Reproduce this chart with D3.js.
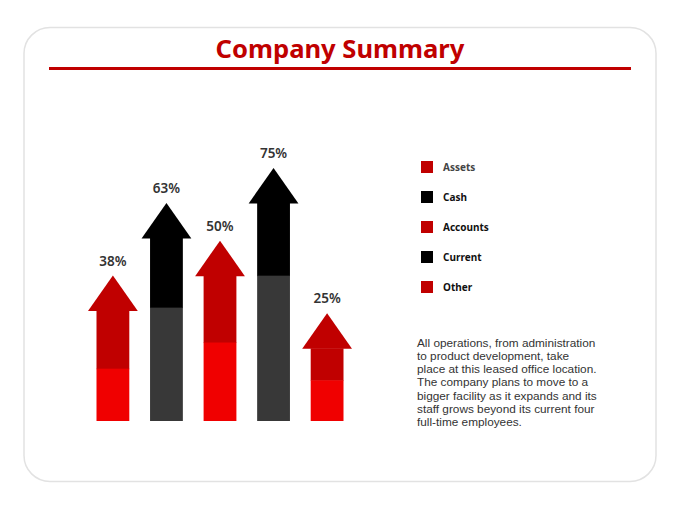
<!DOCTYPE html>
<html>
<head>
<meta charset="utf-8">
<script src="https://cdn.jsdelivr.net/npm/d3@7"></script>
<style>
  html, body { margin: 0; padding: 0; background: #fff; }
  svg { display: block; font-family: "Noto Sans", "Open Sans", sans-serif; }
</style>
</head>
<body>
<div id="chart"></div>
<script>
// data
const categories = ["Assets", "Cash", "Accounts", "Current", "Other"];
const values = [38, 63, 50, 75, 25];      // arrow labels (%)
const lowerValues = [18, 39, 27, 50, 14]; // lighter lower part of each arrow
const kinds = ["red", "black", "red", "black", "red"];
const note = [
  "All operations, from administration",
  "to product development, take",
  "place at this leased office location.",
  "The company plans to move to a",
  "bigger facility as it expands and its",
  "staff grows beyond its current four",
  "full-time employees."
];

const width = 680, height = 510;
const palette = {
  red: { top: "#c00000", bottom: "#f00000", legend: "#c00000" },
  black: { top: "#000000", bottom: "#383838", legend: "#000000" }
};

const svg = d3.select("#chart").append("svg")
  .attr("width", width)
  .attr("height", height);

// card
svg.append("rect")
  .attr("x", 24).attr("y", 27.5)
  .attr("width", 632).attr("height", 454)
  .attr("rx", 26)
  .attr("fill", "#fff")
  .attr("stroke", "#e2e2e2")
  .attr("stroke-width", 1.5);

svg.append("text")
  .attr("x", 340).attr("y", 58)
  .attr("text-anchor", "middle")
  .attr("fill", "#c00000")
  .attr("font-size", 25.6)
  .attr("font-weight", "bold")
  .text("Company Summary");

svg.append("rect")
  .attr("x", 49).attr("y", 67)
  .attr("width", 582).attr("height", 3)
  .attr("fill", "#c00000");

// arrows
const x = d3.scaleBand()
  .domain(categories)
  .range([88, 352])
  .paddingInner(0.07)
  .paddingOuter(0);

const y = d3.scaleLinear()
  .domain([0, 75])
  .range([421, 203]);

const headH = 35;
const shaftInset = 8.5;

const g = svg.append("g");
const arrows = g.selectAll("g.arrow")
  .data(categories.map((c, i) => ({ c, v: values[i], lo: lowerValues[i], kind: kinds[i] })))
  .join("g")
  .attr("class", "arrow");

arrows.append("rect")
  .attr("x", d => x(d.c) + shaftInset)
  .attr("width", x.bandwidth() - 2 * shaftInset)
  .attr("y", d => y(d.v))
  .attr("height", d => y(d.lo) - y(d.v) + 0.5)
  .attr("fill", d => palette[d.kind].top);

arrows.append("rect")
  .attr("x", d => x(d.c) + shaftInset)
  .attr("width", x.bandwidth() - 2 * shaftInset)
  .attr("y", d => y(d.lo))
  .attr("height", d => y(0) - y(d.lo))
  .attr("fill", d => palette[d.kind].bottom);

arrows.append("path")
  .attr("d", d => {
    const x0 = x(d.c), x1 = x0 + x.bandwidth(), xm = (x0 + x1) / 2;
    const b = y(d.v) + 0.5;
    return `M${x0},${b}L${xm},${b - headH - 0.5}L${x1},${b}Z`;
  })
  .attr("fill", d => palette[d.kind].top);

arrows.append("text")
  .attr("x", d => x(d.c) + x.bandwidth() / 2)
  .attr("y", d => y(d.v) - headH - 10)
  .attr("text-anchor", "middle")
  .attr("fill", "#333")
  .attr("font-size", 13.5)
  .attr("font-weight", 600)
  .text(d => d.v + "%");

// legend
const ly = d3.scalePoint()
  .domain(categories)
  .range([167, 287]);

const legend = svg.append("g").selectAll("g")
  .data(categories.map((c, i) => ({ c, kind: kinds[i] })))
  .join("g")
  .attr("transform", d => `translate(421,${ly(d.c)})`);

legend.append("rect")
  .attr("x", 0).attr("y", -6)
  .attr("width", 12).attr("height", 12)
  .attr("fill", d => palette[d.kind].legend);

legend.append("text")
  .attr("x", 22).attr("y", 3.5)
  .attr("fill", (d, i) => i === 0 ? "#444" : "#111")
  .attr("font-size", 10)
  .attr("font-weight", "bold")
  .text(d => d.c);

// paragraph
svg.append("text")
  .attr("x", 417).attr("y", 346.5)
  .attr("fill", "#333")
  .attr("font-family", "'Liberation Sans', Arial, sans-serif")
  .attr("font-size", 11.8)
  .selectAll("tspan")
  .data(note)
  .join("tspan")
  .attr("x", 417)
  .attr("dy", (d, i) => i === 0 ? 0 : 13.3)
  .text(d => d);
</script>
</body>
</html>
